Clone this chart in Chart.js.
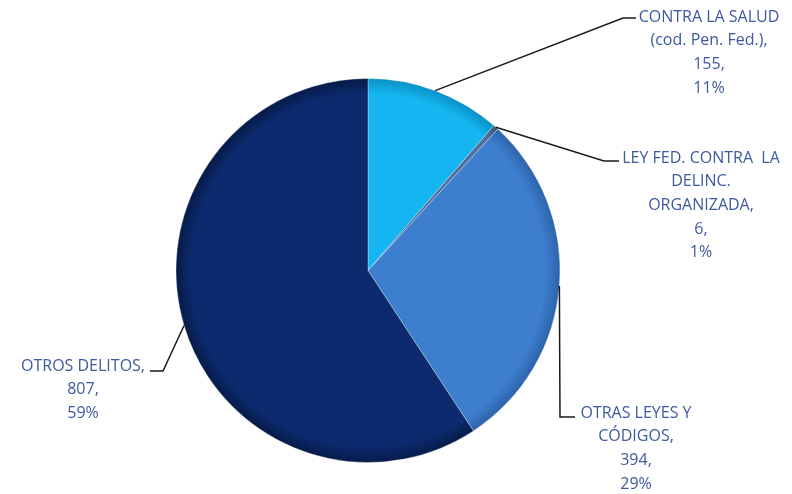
<!DOCTYPE html>
<html>
<head>
<meta charset="utf-8">
<script src="https://cdn.jsdelivr.net/npm/chart.js@4.4.1/dist/chart.umd.min.js"></script>
<style>
  html, body { margin: 0; padding: 0; background: #fff; }
  #wrap { width: 792px; height: 494px; position: relative; }
</style>
</head>
<body>
<div id="wrap"><canvas id="c" width="792" height="494"></canvas></div>
<script>
const categories = ["CONTRA LA SALUD (cod. Pen. Fed.)", "LEY FED. CONTRA LA DELINC. ORGANIZADA", "OTRAS LEYES Y CÓDIGOS", "OTROS DELITOS"];
const values = [155, 6, 394, 807];
const percents = ["11%", "1%", "29%", "59%"];
const sliceColors = ["#14b5f0", "#4f6f9c", "#3e7ecf", "#0c2a6d"];
const edgeColors = ["#0a8fc4", "#3c5578", "#2c62a8", "#061a48"];

// label text split into lines, plus where each label sits
const labelLines = [
  ["CONTRA LA SALUD", "(cod. Pen. Fed.),", "155,", "11%"],
  ["LEY FED. CONTRA  LA", "DELINC.", "ORGANIZADA,", "6,", "1%"],
  ["OTRAS LEYES Y", "CÓDIGOS,", "394,", "29%"],
  ["OTROS DELITOS,", "807,", "59%"]
];
const labelBoxes = [
  { x: 709, y: 17, bend: [623, 18], end: [636, 18] },
  { x: 701, y: 158, bend: [604, 161], end: [619, 161] },
  { x: 636, y: 413, bend: [560, 417], end: [575, 417] },
  { x: 83, y: 366, bend: [163, 371], end: [150, 371] }
];

function shade(ctx, i) {
  const area = ctx.chart.chartArea;
  if (!area) return sliceColors[i];
  const cx = (area.left + area.right) / 2;
  const cy = (area.top + area.bottom) / 2;
  const r = Math.min(area.right - area.left, area.bottom - area.top) / 2;
  const g = ctx.chart.ctx.createRadialGradient(cx, cy, 0, cx, cy, r);
  g.addColorStop(0, sliceColors[i]);
  g.addColorStop(0.92, sliceColors[i]);
  g.addColorStop(1, edgeColors[i]);
  return g;
}

const labelPlugin = {
  id: "leaderLabels",
  afterDatasetsDraw(chart) {
    const ctx = chart.ctx;
    const arcs = chart.getDatasetMeta(0).data;
    ctx.save();
    // title, cut off at the top edge
    ctx.font = "bold 18px 'Open Sans', sans-serif";
    ctx.fillStyle = "#8a9ac0";
    ctx.textAlign = "center";
    ctx.textBaseline = "alphabetic";
    ctx.fillText("ENERO - DICIEMBRE  2021", 384, -1);

    arcs.forEach((arc, i) => {
      const mid = (arc.startAngle + arc.endAngle) / 2;
      const sx = arc.x + Math.cos(mid) * arc.outerRadius;
      const sy = arc.y + Math.sin(mid) * arc.outerRadius;
      const b = labelBoxes[i];
      ctx.strokeStyle = "#1a1a1a";
      ctx.lineWidth = 1.5;
      ctx.beginPath();
      ctx.moveTo(sx, sy);
      ctx.lineTo(b.bend[0], b.bend[1]);
      ctx.lineTo(b.end[0], b.end[1]);
      ctx.stroke();

      ctx.fillStyle = "#3d5a9e";
      ctx.font = "16px 'Open Sans', sans-serif";
      ctx.textAlign = "center";
      ctx.textBaseline = "middle";
      labelLines[i].forEach((t, k) => {
        ctx.fillText(t, b.x, b.y + k * 23.7);
      });
    });
    ctx.restore();
  }
};

new Chart(document.getElementById("c"), {
  type: "pie",
  data: {
    labels: categories,
    datasets: [{
      data: values,
      backgroundColor: (ctx) => shade(ctx, ctx.dataIndex),
      borderColor: "rgba(255,255,255,0.3)",
      borderWidth: 1
    }]
  },
  options: {
    responsive: false,
    animation: false,
    layout: { padding: { top: 78, bottom: 31, left: 100, right: 156 } },
    plugins: {
      legend: { display: false },
      tooltip: { enabled: false },
      title: { display: false }
    }
  },
  plugins: [labelPlugin]
});
</script>
</body>
</html>
